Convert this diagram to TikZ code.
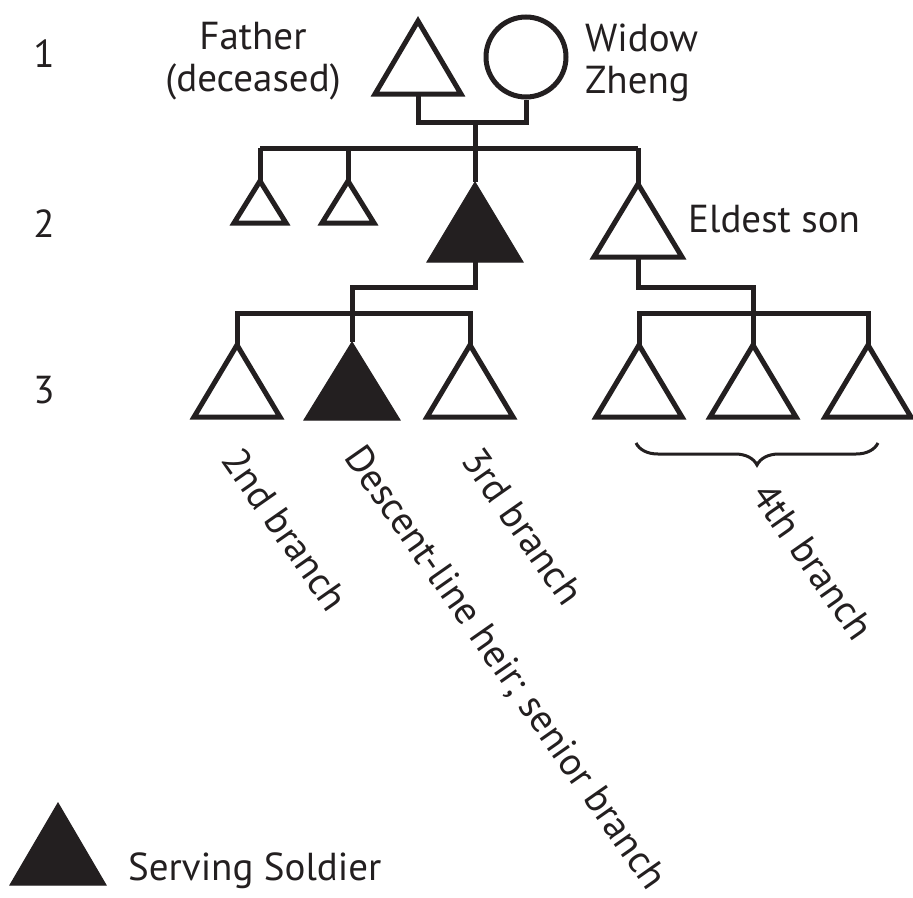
\documentclass[tikz,border=0pt]{standalone}
\usepackage{fontspec}
\setmainfont{PT Sans}
\usetikzlibrary{decorations.pathreplacing}
\definecolor{ink}{HTML}{231F20}
\newcommand\ftri[6]{%
  \coordinate (#1) at (#2,#3);
  \coordinate (#1-b) at (#2,#3+#5);
  \path[#6] (#2-#4,#3+#5) -- (#1) -- (#2+#4,#3+#5) -- cycle;
}
\tikzset{
  open/.style={draw=ink, line width=5pt, line join=miter, fill=white},
  solid/.style={draw=ink, line width=1pt, line join=miter, fill=ink},
  link/.style={draw=ink, line width=5pt, line cap=butt},
  lbl/.style={font=\fontsize{39}{42}\selectfont, text=ink, inner sep=0pt},
  rlbl/.style={lbl, rotate=-55, anchor=base west},
}
\begin{document}
\begin{tikzpicture}[x=1pt,y=-1pt]
\useasboundingbox[fill=white] (0,0) rectangle (913,897);
% generation 1
\ftri{fa}{418}{21}{43}{73}{open}
\node[draw=ink, line width=5pt, circle, minimum size=80pt, inner sep=0pt] (mo) at (526,57) {};
\coordinate (mar) at (475,122);
\draw[link] (fa-b) |- (mar) -| (mo.south);
\coordinate (sib2) at (475,148);
\draw[link] (mar) -- (sib2);
% generation 2
\ftri{s1}{260}{181}{26}{42}{open}
\ftri{s2}{348}{181}{26}{42}{open}
\ftri{sol}{475}{182}{48}{80}{solid}
\ftri{es}{638}{184}{44}{73}{open}
\draw[link] (s1 |- sib2) -- (es |- sib2);
\foreach \n in {s1,s2,sol,es} \draw[link] (\n |- sib2) -- (\n);
% generation 3
\ftri{a1}{237}{345}{43}{72}{open}
\ftri{a2}{352}{342}{48}{78}{solid}
\ftri{a3}{470}{345}{43}{72}{open}
\ftri{b1}{639}{345}{43}{72}{open}
\ftri{b2}{753}{345}{43}{72}{open}
\ftri{b3}{868}{345}{43}{72}{open}
\coordinate (ja) at (352,287);
\coordinate (jb) at (753,287);
\draw[link] (sol-b) |- (ja) -- (a2 |- 0,313);
\draw[link] (es-b) |- (jb) -- (b2 |- 0,313);
\draw[link] (a1) -- (a1 |- 0,313) -- (a3 |- 0,313) -- (a3);
\draw[link] (a2 |- 0,313) -- (a2);
\draw[link] (b1) -- (b1 |- 0,313) -- (b3 |- 0,313) -- (b3);
\draw[link] (b2 |- 0,313) -- (b2);
% brace
\coordinate (brl) at (636,443);
\coordinate (brr) at (878,443);
\draw[draw=ink, line width=3pt, decorate, decoration={brace, mirror, amplitude=22pt}] (brl) -- (brr);
% generation numbers
\node[lbl, anchor=base] (g1) at (44,67) {1};
\node[lbl, anchor=base] (g2) at (44,237) {2};
\node[lbl, anchor=base] (g3) at (44,403) {3};
% labels
\node[lbl, align=center] (lfa) at (253,61) {Father\\(deceased)};
\node[lbl, align=left, anchor=west] (lmo) at (585,63) {Widow\\Zheng};
\node[lbl, anchor=base west] (les) at (688,232) {Eldest son};
\node[rlbl] (la1) at (220,460) {2nd branch};
\node[rlbl] (la2) at (343,457) {Descent-line heir; senior branch};
\node[rlbl] (la3) at (460,460) {3rd branch};
\node[rlbl] (lb) at (750,495) {4th branch};
% legend
\ftri{leg}{58}{803}{48}{82}{solid}
\node[lbl, anchor=base west] (lleg) at (128,880) {Serving Soldier};
\end{tikzpicture}
\end{document}
